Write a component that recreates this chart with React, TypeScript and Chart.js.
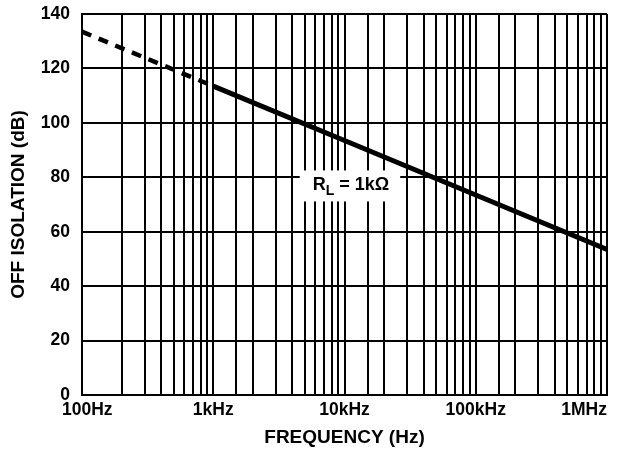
import React, { useEffect, useRef } from "react";
import { Chart, registerables } from "chart.js";

Chart.register(...registerables);

// Data
const dashedFreq = [100, 1000];
const dashedIso = [133.5, 113.5];
const solidFreq = [1000, 10000, 100000, 1000000];
const solidIso = [113.5, 93.5, 73.5, 53.5];

const xTickValues = [100, 1000, 10000, 100000, 1000000];
const xTickLabels = ["100Hz", "1kHz", "10kHz", "100kHz", "1MHz"];
const yTickValues = [0, 20, 40, 60, 80, 100, 120, 140];

const annotationFreq = 11200;
const annotationIso = 77;
const annotationMain = "R";
const annotationSub = "L";
const annotationRest = " = 1k\u03A9";

const FONT = '"Liberation Sans", Arial, Helvetica, sans-serif';
const TICK_SIZE = 17.5;

const annotationPlugin = {
  id: "rlAnnotation",
  beforeDatasetsDraw(chart: any) {
    const { ctx, scales } = chart;
    const cx = scales.x.getPixelForValue(annotationFreq);
    const cy = scales.y.getPixelForValue(annotationIso);
    ctx.save();
    ctx.font = `bold 18px ${FONT}`;
    const wR = ctx.measureText(annotationMain).width;
    const wRest = ctx.measureText(annotationRest).width;
    ctx.font = `bold 14px ${FONT}`;
    const wL = ctx.measureText(annotationSub).width;
    const total = wR + wL + wRest;
    const left = cx - total / 2;
    ctx.fillStyle = "#ffffff";
    ctx.fillRect(left - 13, cy - 15, total + 24, 31);
    ctx.fillStyle = "#000000";
    ctx.textBaseline = "alphabetic";
    ctx.textAlign = "left";
    ctx.font = `bold 18px ${FONT}`;
    ctx.fillText(annotationMain, left, cy + 5);
    ctx.font = `bold 14px ${FONT}`;
    ctx.fillText(annotationSub, left + wR, cy + 10);
    ctx.font = `bold 18px ${FONT}`;
    ctx.fillText(annotationRest, left + wR + wL, cy + 5);
    ctx.restore();
  },
};

// X tick labels, positioned from the x scale; kept inside the drawing band
const xLabelPlugin = {
  id: "xLabels",
  afterDraw(chart: any) {
    const { ctx, scales, chartArea } = chart;
    const xs = scales.x;
    ctx.save();
    ctx.font = `bold ${TICK_SIZE}px ${FONT}`;
    ctx.fillStyle = "#000000";
    ctx.textAlign = "center";
    ctx.textBaseline = "middle";
    const minX = chartArea.left - 20;
    const maxX = chartArea.right;
    const yPix = chartArea.bottom + 15;
    xTickValues.forEach((v, i) => {
      const text = xTickLabels[i];
      const w = ctx.measureText(text).width;
      let cx = xs.getPixelForValue(v);
      cx = Math.max(minX + w / 2, Math.min(maxX - w / 2, cx));
      ctx.fillText(text, cx, yPix);
    });
    ctx.restore();
  },
};

export default function App() {
  const canvasRef = useRef<HTMLCanvasElement | null>(null);

  useEffect(() => {
    document.body.style.margin = "0";
    const canvas = canvasRef.current;
    if (!canvas) return;
    const chart = new Chart(canvas, {
      type: "line",
      data: {
        datasets: [
          {
            label: "dashed",
            data: dashedFreq.map((f, i) => ({ x: f, y: dashedIso[i] })),
            borderColor: "#000000",
            borderWidth: 4.5,
            borderDash: [10, 8],
            borderCapStyle: "butt",
            pointRadius: 0,
            fill: false,
            tension: 0,
          },
          {
            label: "solid",
            data: solidFreq.map((f, i) => ({ x: f, y: solidIso[i] })),
            borderColor: "#000000",
            borderWidth: 5,
            borderCapStyle: "butt",
            pointRadius: 0,
            fill: false,
            tension: 0,
          },
        ],
      },
      options: {
        responsive: false,
        animation: false,
        events: [],
        layout: { padding: { top: 14, right: 14, left: 0, bottom: 0 } },
        plugins: {
          legend: { display: false },
          tooltip: { enabled: false },
        },
        scales: {
          x: {
            type: "logarithmic",
            min: 100,
            max: 1000000,
            afterFit: (scale: any) => {
              scale.height = 55;
              scale.paddingLeft = 0;
              scale.paddingRight = 0;
            },
            border: { color: "#000000", width: 2 },
            grid: {
              color: "#000000",
              lineWidth: 2,
              drawTicks: false,
            },
            ticks: {
              display: false,
              autoSkip: false,
              maxRotation: 0,
              minRotation: 0,
            },
            title: {
              display: true,
              text: "FREQUENCY (Hz)",
              color: "#000000",
              font: { family: FONT, size: 19, weight: "bold" },
              padding: { top: 0, bottom: 1 },
            },
          },
          y: {
            type: "linear",
            min: 0,
            max: 140,
            afterFit: (scale: any) => {
              scale.width = 82;
              scale.paddingTop = 0;
              scale.paddingBottom = 0;
            },
            afterBuildTicks: (scale: any) => {
              scale.ticks = yTickValues.map((v) => ({ value: v }));
            },
            border: { color: "#000000", width: 2 },
            grid: {
              color: "#000000",
              lineWidth: 2,
              drawTicks: false,
            },
            ticks: {
              padding: 12,
              color: "#000000",
              font: { family: FONT, size: TICK_SIZE, weight: "bold" },
            },
            title: {
              display: true,
              text: "OFF ISOLATION (dB)",
              color: "#000000",
              font: { family: FONT, size: 19, weight: "bold" },
              padding: { top: 7, bottom: 0 },
            },
          },
        },
      },
      plugins: [annotationPlugin, xLabelPlugin],
    });
    return () => chart.destroy();
  }, []);

  return (
    <div style={{ width: 621, height: 450, background: "#ffffff" }}>
      <canvas ref={canvasRef} width={621} height={450} style={{ display: "block", width: 621, height: 450 }} />
    </div>
  );
}
